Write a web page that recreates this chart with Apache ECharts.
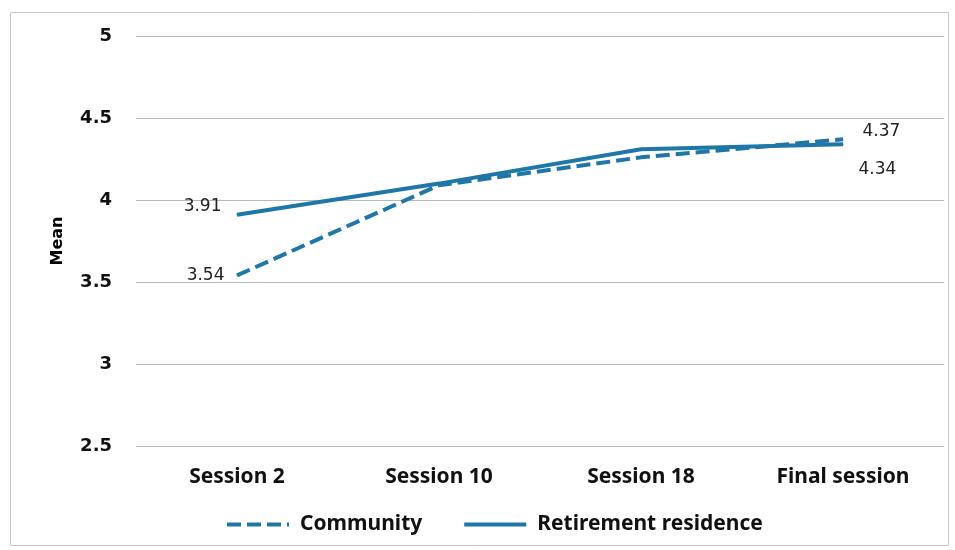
<!DOCTYPE html>
<html>
<head>
<meta charset="utf-8">
<script src="https://cdn.jsdelivr.net/npm/echarts@6/dist/echarts.min.js"></script>
<style>
  html, body { margin: 0; padding: 0; background: #fff; }
  #chart { width: 955px; height: 550px; }
</style>
</head>
<body>
<div id="chart"></div>
<script>
var sessions = ['Session 2', 'Session 10', 'Session 18', 'Final session'];
var community = [3.54, 4.09, 4.26, 4.37];
var retirement = [3.91, 4.10, 4.31, 4.34];
var seriesNames = ['Community', 'Retirement residence'];

var blue = '#1f77a8';

// only first and last points carry a value label
function withLabels(values, firstOffset, lastOffset) {
    return values.map(function (v, i) {
        var item = { value: v, label: { show: false } };
        if (i === 0) item.label = { show: true, position: 'left', distance: 0, offset: firstOffset };
        if (i === values.length - 1) item.label = { show: true, position: 'right', distance: 0, offset: lastOffset };
        return item;
    });
}

var labelFont = { fontFamily: 'DejaVu Sans', fontSize: 17, color: '#222' };

var myChart = echarts.init(document.getElementById('chart'));
option = {
    animation: false,
    graphic: [{
        type: 'rect',
        shape: { x: 10.5, y: 12.5, width: 938, height: 533 },
        style: { fill: 'none', stroke: '#c8c8c8', lineWidth: 1 }
    }],
    grid: { left: 136, right: 11, top: 36, bottom: 104 },
    legend: {
        bottom: 10,
        left: 220,
        itemWidth: 62,
        itemHeight: 6,
        itemGap: 40,
        data: seriesNames,
        itemStyle: { opacity: 0 },
        lineStyle: { width: 4 },
        textStyle: { fontFamily: 'Noto Sans', fontWeight: 'bold', fontSize: 21, color: '#111', padding: [0, 0, 0, 6] }
    },
    xAxis: {
        type: 'category',
        data: sessions,
        boundaryGap: true,
        axisLine: { show: false },
        axisTick: { show: false },
        axisLabel: { margin: 21, fontFamily: 'Noto Sans', fontWeight: 'bold', fontSize: 21, color: '#111' }
    },
    yAxis: {
        type: 'value',
        min: 2.5,
        max: 5,
        interval: 0.5,
        name: 'Mean',
        nameLocation: 'middle',
        nameGap: 70,
        nameRotate: 90,
        nameTextStyle: { fontFamily: 'DejaVu Sans', fontWeight: 'bold', fontSize: 16, color: '#000' },
        axisLine: { show: false },
        axisTick: { show: false },
        axisLabel: { margin: 24, fontFamily: 'DejaVu Sans', fontWeight: 'bold', fontSize: 18, color: '#111' },
        splitLine: { lineStyle: { color: '#b8b8b8', width: 1 } }
    },
    series: [
        {
            name: seriesNames[0],
            type: 'line',
            symbol: 'circle',
            symbolSize: 1,
            showSymbol: true,
            data: withLabels(community, [-12, 0], [19, -8]),
            lineStyle: { color: blue, width: 4, type: [14, 6] },
            itemStyle: { color: blue },
            label: labelFont,
            z: 3
        },
        {
            name: seriesNames[1],
            type: 'line',
            symbol: 'circle',
            symbolSize: 1,
            showSymbol: true,
            data: withLabels(retirement, [-15, -8], [15, 25]),
            lineStyle: { color: blue, width: 4 },
            itemStyle: { color: blue },
            label: labelFont,
            z: 2
        }
    ]
};
myChart.setOption(option);
</script>
</body>
</html>
